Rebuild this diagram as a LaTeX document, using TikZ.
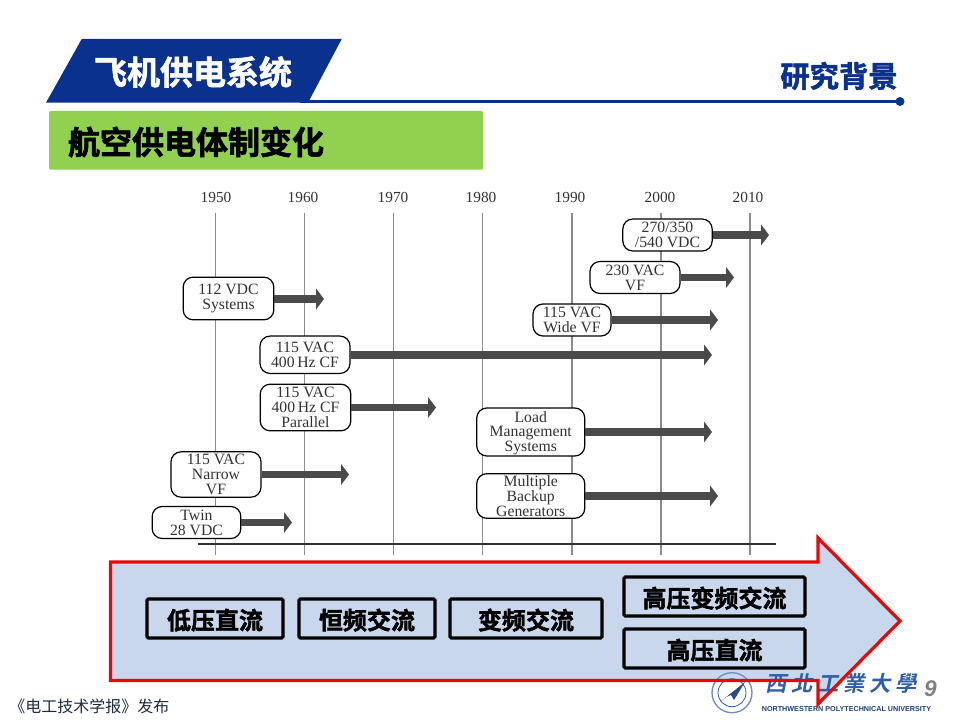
\documentclass[tikz,border=0pt]{standalone}
\usepackage{fontspec}
\usetikzlibrary{arrows.meta}
\setmainfont{Liberation Serif}
\newfontfamily\cjk{Noto Sans CJK SC}
\newfontfamily\cjkb[FakeBold=1.8]{Noto Sans CJK SC Bold}
\newfontfamily\cjktc[LetterSpace=22]{Noto Sans CJK TC Bold}
\newfontfamily\sansb{Liberation Sans Bold}
\newfontfamily\sansbi{Liberation Sans Bold Italic}
\definecolor{navy}{HTML}{0B318F}
\definecolor{leaf}{HTML}{92D050}
\definecolor{pale}{HTML}{C9D7EC}
\definecolor{alarm}{HTML}{E50A0A}
\definecolor{shaft}{HTML}{4A4A4A}
\definecolor{grid}{HTML}{8C8C8C}
\definecolor{ink}{HTML}{1F2A44}
\definecolor{crest}{HTML}{2F5FA8}
\tikzset{
  x=0.75pt,y=-0.75pt,
  gridline/.style={draw=grid,line width=1.1pt},
  yearlab/.style={font=\fontsize{11.5}{12}\selectfont,text=black!80,inner sep=0pt,anchor=center},
  era/.style={draw=black,line width=0.9pt,fill=white,rounded corners=7.5pt,inner sep=0pt,anchor=center,align=center,font=\fontsize{11.8}{11.2}\selectfont,text=black!80},
  span/.style={draw=shaft,line width=5.3pt,-{Triangle[length=6pt,width=15.5pt]}},
  phase/.style={draw=black,line width=2.4pt,rounded corners=1pt,inner sep=0pt,anchor=center,text height=16.2pt,text depth=0pt,font=\cjkb\fontsize{18}{18}\selectfont,text=black},
}
\begin{document}
\begin{tikzpicture}
\useasboundingbox (0,0) rectangle (960,720);
\fill[white] (0,0) rectangle (960,720);
% header
\coordinate (ruleL) at (300,101.5);
\coordinate (ruleR) at (900,101.5);
\draw[navy,line width=2.4pt] (ruleL) -- (ruleR);
\fill[navy] (ruleR) circle (4.5);
\fill[navy] (46,102.7) -- (81.7,39) -- (341.7,39) -- (308,102.7) -- cycle;
\node[text=white,inner sep=0pt,font=\cjkb\fontsize{24.75}{25}\selectfont] (title) at (193,72) {飞机供电系统};
\node[text=navy,inner sep=0pt,font=\cjkb\fontsize{22}{22}\selectfont] (section) at (839,76) {研究背景};
\fill[leaf,rounded corners=1pt] (49,111) rectangle (483,169.7);
\node[text=black,inner sep=0pt,font=\cjkb\fontsize{24}{24}\selectfont] (sub) at (196,142) {航空供电体制变化};
% grid
\foreach \yr/\gx/\lx in {1950/215.7/216,1960/304.7/303,1970/393.7/393,1980/482.7/481,1990/572/570,2000/661/660,2010/750/748}{
  \node[yearlab] (y\yr) at (\lx,197.5) {\yr};
  \coordinate (t\yr) at (\gx,213);
  \coordinate (b\yr) at (\gx,555);
  \draw[gridline] (t\yr) -- (b\yr);
}
\coordinate (axL) at (198,544);
\coordinate (axR) at (776,544);
\draw[draw=black!80,line width=1pt] (axL) -- (axR);
% era boxes
\node[era,minimum width=68pt,minimum height=32pt] (a) at (228.5,298.5) {112 VDC\\Systems};
\node[era,minimum width=67.5pt,minimum height=28pt] (b) at (305,354.75) {115 VAC\\400\,Hz CF};
\node[era,minimum width=68pt,minimum height=35pt] (c) at (305.5,407.5) {115 VAC\\400\,Hz CF\\Parallel};
\node[era,minimum width=67.5pt,minimum height=34pt] (d) at (216,474.5) {115 VAC\\Narrow\\VF};
\node[era,minimum width=66.5pt,minimum height=24pt] (e) at (196.5,522.5) {Twin\\28 VDC};
\node[era,minimum width=67pt,minimum height=24pt] (f) at (667.5,235) {270/350\\/540 VDC};
\node[era,minimum width=67.5pt,minimum height=24pt] (g) at (635,277.5) {230 VAC\\VF};
\node[era,minimum width=58.5pt,minimum height=24pt] (h) at (572,320) {115 VAC\\Wide VF};
\node[era,minimum width=81pt,minimum height=36pt] (i) at (530.75,432) {\rule{0pt}{10pt}Load\\Management\\Systems};
\node[era,minimum width=81pt,minimum height=33.5pt] (j) at (530.75,496) {Multiple\\Backup\\Generators};
\foreach \n/\tx/\ty in {a/324/299,b/712/355,c/436/407.5,d/349/474.5,e/292/522.5,f/769/235,g/734/277.5,h/718/320,i/712/432,j/718/496}{
  \coordinate (\n end) at (\tx,\ty);
  \draw[span] (\n.east |- \n end) -- (\n end);
}
% big arrow: fill first, the logo over it, then the red outline
\fill[pale] (110.5,562) -- (818,562) -- (818,538) -- (900,621) -- (818,704) -- (818,680.5) -- (110.5,680.5) -- cycle;
\draw[crest!70!white,line width=1pt] (732,692.7) circle (20);
\draw[crest,line width=0.6pt] (732,692.7) circle (14);
\fill[crest!80!black] (720,702) -- (745,682) -- (734,700) -- (731,695) -- (726,697) -- cycle;
\node[text=crest,inner sep=0pt,font=\cjktc\fontsize{16}{16}\selectfont,xslant=0.2] (uni) at (843,683) {西北工業大學};
\node[text=crest!70!black,inner sep=0pt,font=\sansb\fontsize{5.4}{5}\selectfont] (uniEn) at (846.5,709) {NORTHWESTERN POLYTECHNICAL UNIVERSITY};
\node[text=black!50,inner sep=0pt,font=\sansbi\fontsize{17}{17}\selectfont] (page) at (930.5,688.5) {9};
\draw[draw=alarm,line width=2.4pt,miter limit=10] (110.5,562) -- (818,562) -- (818,538) -- (900,621) -- (818,704) -- (818,680.5) -- (110.5,680.5) -- cycle;
\node[phase,minimum width=102pt,minimum height=29.25pt] (p1) at (215,618.5) {低压直流};
\node[phase,minimum width=102pt,minimum height=29.25pt] (p2) at (367,618.5) {恒频交流};
\node[phase,minimum width=114pt,minimum height=29.25pt] (p3) at (526,618.5) {变频交流};
\node[phase,minimum width=135.75pt,minimum height=29.25pt] (p4) at (714.5,596.5) {高压变频交流};
\node[phase,minimum width=135.75pt,minimum height=29.25pt] (p5) at (714.5,648.5) {高压直流};
% footer
\node[text=ink,inner sep=0pt,anchor=west,font=\cjk\fontsize{12}{12}\selectfont] (src) at (9,706) {《电工技术学报》发布};
\end{tikzpicture}
\end{document}
